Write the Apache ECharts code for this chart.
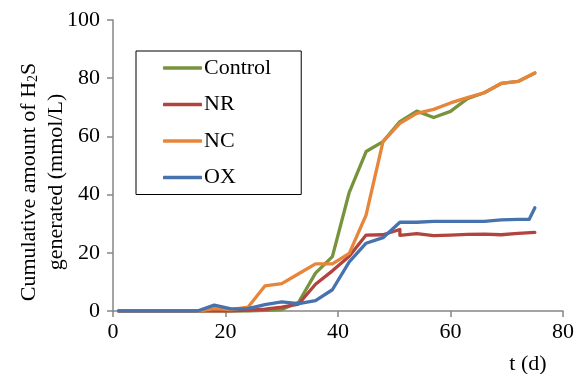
<!DOCTYPE html>
<html>
<head>
<meta charset="utf-8">
<script src="https://cdn.jsdelivr.net/npm/echarts@6/dist/echarts.min.js"></script>
<style>
  html, body { margin: 0; padding: 0; background: #fff; }
  #chart { width: 584px; height: 374px; }
</style>
</head>
<body>
<div id="chart"></div>
<script>
// sampling days (every 3 days)
const days = [1, 3, 6, 9, 12, 15, 18, 21, 24, 27, 30, 33, 36, 39, 42, 45, 48, 51, 54, 57, 60, 63, 66, 69, 72, 75];
const control = [0, 0, 0, 0, 0, 0, 0, 0, 0, 0.2, 0.5, 3, 13, 18.7, 40.8, 54.8, 58.2, 65.1, 68.7, 66.5, 68.6, 73, 75, 78.2, 78.9, 81.8];
const nc = [0, 0, 0, 0, 0, 0, 0.8, 0.5, 1.3, 8.6, 9.4, 12.8, 16.2, 16.2, 19.8, 33, 58.2, 64.5, 67.9, 69.3, 71.5, 73.3, 75, 78.2, 78.9, 81.8];

// NR has a double reading on day 51
const nrDays = [1, 3, 6, 9, 12, 15, 18, 21, 24, 27, 30, 33, 36, 39, 42, 45, 48, 51, 51, 54, 57, 60, 63, 66, 69, 72, 75];
const nr = [0, 0, 0, 0, 0, 0, 0, 0, 0.3, 0.6, 1.3, 2.4, 9.2, 13.8, 18.8, 26.1, 26.2, 28, 26, 26.6, 25.9, 26.1, 26.3, 26.4, 26.2, 26.7, 27];

// OX has an extra reading on day 74
const oxDays = [1, 3, 6, 9, 12, 15, 18, 21, 24, 27, 30, 33, 36, 39, 42, 45, 48, 51, 54, 57, 60, 63, 66, 69, 72, 74, 75];
const ox = [0, 0, 0, 0, 0, 0, 2, 0.7, 0.8, 2.2, 3.1, 2.5, 3.6, 7.3, 16.9, 23.3, 25.2, 30.5, 30.5, 30.8, 30.8, 30.8, 30.8, 31.3, 31.5, 31.5, 35.5];

const xTicks = [0, 20, 40, 60, 80];
const yTicks = [0, 20, 40, 60, 80, 100];

const font = "'Liberation Serif', 'Times New Roman', serif";
const axisGray = "#868686";

const pairs = (xs, ys) => xs.map((x, i) => [x, ys[i]]);

const makeLine = (name, xs, ys, color) => ({
  name,
  type: "line",
  data: pairs(xs, ys),
  symbol: "none",
  color,
  lineStyle: { width: 3.3, color, cap: "round", join: "round" },
});

const chart = echarts.init(document.getElementById("chart"), undefined, { renderer: "canvas" });

chart.setOption({
  animation: false,
  grid: { left: 113, right: 21, top: 20, bottom: 63 },
  legend: {
    orient: "vertical",
    left: 136,
    top: 51,
    icon: "roundRect",
    itemWidth: 39,
    itemHeight: 3.5,
    itemGap: 14.5,
    padding: [6, 30, 6, 27],
    borderColor: "#000",
    borderWidth: 1,
    textStyle: { fontFamily: font, fontSize: 22, color: "#000", padding: [0, 0, 0, -3] },
    data: ["Control", "NR", "NC", "OX"],
  },
  xAxis: {
    type: "value",
    min: xTicks[0],
    max: xTicks[xTicks.length - 1],
    interval: 20,
    splitLine: { show: false },
    axisLine: { lineStyle: { color: axisGray, width: 1.5 } },
    axisTick: { show: true, length: 6, lineStyle: { color: axisGray, width: 1.5 } },
    axisLabel: { color: "#000", fontFamily: font, fontSize: 22, margin: 10 },
  },
  yAxis: {
    type: "value",
    min: yTicks[0],
    max: yTicks[yTicks.length - 1],
    interval: 20,
    splitLine: { show: false },
    axisLine: { show: true, lineStyle: { color: axisGray, width: 1.5 } },
    axisTick: { show: true, length: 6, lineStyle: { color: axisGray, width: 1.5 } },
    axisLabel: { color: "#000", fontFamily: font, fontSize: 22, margin: 13 },
  },
  graphic: [
    {
      type: "text",
      x: 40,
      y: 182,
      rotation: Math.PI / 2,
      style: {
        text: "{m|Cumulative amount of H}{sub|2}{m|S}\n{m|generated (mmol/L)}",
        fill: "#000",
        align: "center",
        verticalAlign: "middle",
        rich: {
          m: { fontSize: 22, fontFamily: font, lineHeight: 27, verticalAlign: "bottom" },
          sub: { fontSize: 14, fontFamily: font, lineHeight: 18, verticalAlign: "bottom" },
        },
      },
    },
    {
      type: "text",
      x: 528,
      y: 364,
      style: {
        text: "t (d)",
        font: "22px " + font,
        fill: "#000",
        align: "center",
        verticalAlign: "middle",
      },
    },
  ],
  series: [
    makeLine("Control", days, control, "#77933C"),
    makeLine("NR", nrDays, nr, "#B3433F"),
    makeLine("NC", days, nc, "#E7853A"),
    makeLine("OX", oxDays, ox, "#4672AE"),
  ],
});
</script>
</body>
</html>
